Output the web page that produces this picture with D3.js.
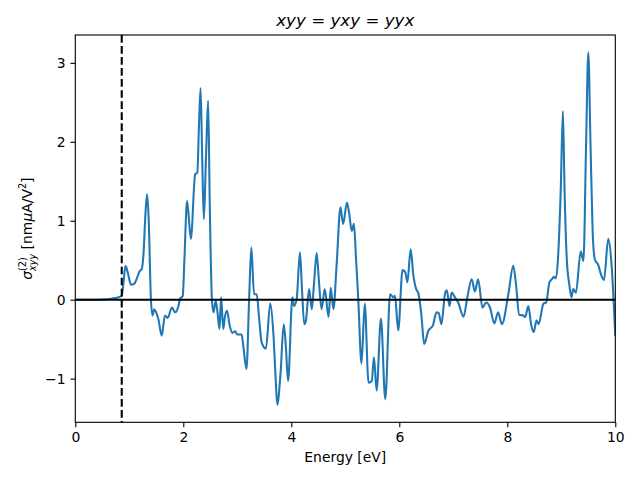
<!DOCTYPE html>
<html>
<head>
<meta charset="utf-8">
<script src="https://cdn.jsdelivr.net/npm/d3@7"></script>
<style>
  html, body { margin: 0; padding: 0; background: #fff; }
  svg { display: block; font-family: "DejaVu Sans", sans-serif; }
</style>
</head>
<body>
<svg id="chart" width="640" height="480"></svg>
<script>
// ---- data ----
const energy = [
  0.00, 0.31, 0.51, 0.64, 0.74, 0.81, 0.86, 0.89, 0.93, 0.98,
  1.03, 1.09, 1.14, 1.19, 1.23, 1.26, 1.30, 1.33, 1.36, 1.40,
  1.43, 1.46, 1.49, 1.54, 1.60, 1.66, 1.71, 1.79, 1.85, 1.91,
  1.94, 1.99, 2.02, 2.07, 2.14, 2.22, 2.26, 2.29, 2.32, 2.35,
  2.38, 2.42, 2.46, 2.49, 2.53, 2.56, 2.60, 2.63, 2.67, 2.70,
  2.74, 2.77, 2.81, 2.86, 2.91, 2.96, 3.00, 3.08, 3.11, 3.17,
  3.22, 3.26, 3.31, 3.36, 3.40, 3.45, 3.53, 3.61, 3.67, 3.71,
  3.74, 3.80, 3.86, 3.90, 3.94, 4.02, 4.05, 4.10, 4.16, 4.20,
  4.24, 4.27, 4.33, 4.38, 4.42, 4.47, 4.51, 4.56, 4.62, 4.69,
  4.73, 4.78, 4.84, 4.91, 4.96, 5.03, 5.07, 5.12, 5.16, 5.20,
  5.24, 5.30, 5.36, 5.43, 5.49, 5.53, 5.58, 5.66, 5.74, 5.83,
  5.89, 5.92, 5.98, 6.06, 6.11, 6.15, 6.21, 6.26, 6.32, 6.35,
  6.41, 6.46, 6.54, 6.58, 6.62, 6.69, 6.73, 6.78, 6.85, 6.88,
  6.93, 6.97, 7.03, 7.09, 7.19, 7.26, 7.34, 7.40, 7.46, 7.54,
  7.61, 7.68, 7.76, 7.83, 7.90, 8.02, 8.11, 8.16, 8.22, 8.30,
  8.33, 8.39, 8.44, 8.49, 8.54, 8.58, 8.67, 8.72, 8.78, 8.84,
  8.86, 8.90, 8.94, 8.99, 9.03, 9.06, 9.10, 9.15, 9.19, 9.22,
  9.27, 9.36, 9.41, 9.46, 9.50, 9.54, 9.58, 9.62, 9.69, 9.73,
  9.79, 9.87, 9.93, 10.00
];
const sigma = [
  0.000, 0.000, 0.003, 0.010, 0.020, 0.035, 0.050, 0.200, 0.430, 0.320,
  0.190, 0.200, 0.270, 0.360, 0.390, 0.550, 1.100, 1.340, 1.000, 0.010,
  -0.200, -0.120, -0.150, -0.250, -0.455, -0.200, -0.230, -0.100, -0.160, -0.080,
  0.010, 0.050, 0.500, 1.250, 0.770, 1.590, 1.610, 2.200, 2.680, 1.800,
  1.020, 1.800, 2.520, 1.200, 0.000, -0.160, -0.010, -0.140, -0.370, 0.030,
  -0.370, -0.220, -0.140, -0.330, -0.420, -0.400, -0.440, -0.440, -0.580, -0.880,
  0.030, 0.660, 0.070, 0.070, -0.200, -0.540, -0.620, -0.050, -0.450, -1.000,
  -1.330, -0.940, -0.310, -0.600, -1.030, 0.030, -0.080, 0.010, 0.600, 0.100,
  -0.310, -0.270, 0.135, -0.120, 0.200, 0.590, 0.250, -0.120, 0.135, -0.220,
  0.150, -0.120, 0.450, 1.170, 0.960, 1.230, 1.100, 0.870, 0.960, 0.500,
  0.010, -0.810, -0.050, -1.050, -1.030, -0.730, -1.150, -0.240, -1.260, 0.070,
  0.030, 0.050, -0.390, 0.375, 0.350, 0.220, 0.640, 0.310, 0.120, 0.090,
  -0.200, -0.560, -0.390, -0.360, -0.330, -0.160, -0.170, -0.310, 0.090, 0.120,
  -0.080, 0.090, 0.030, -0.035, -0.215, 0.030, 0.260, 0.105, 0.260, -0.100,
  -0.035, -0.100, -0.300, -0.160, -0.310, 0.070, 0.430, 0.200, -0.190, -0.200,
  -0.220, -0.080, -0.310, -0.410, -0.260, -0.310, -0.050, -0.035, 0.220, 0.270,
  0.290, 0.270, 0.535, 1.400, 2.390, 1.400, 0.535, 0.180, 0.030, 0.135,
  0.090, 0.610, 0.490, 2.000, 3.130, 2.000, 0.870, 0.515, 0.430, 0.330,
  0.250, 0.770, 0.450, -0.460
];
const xTicks = [0, 2, 4, 6, 8, 10];
const yTicks = [-1, 0, 1, 2, 3];
const bandGap = 0.86;
const titleParts = [["xyy", true], [" = ", false], ["yxy", true], [" = ", false], ["yyx", true]];
const xLabel = "Energy [eV]";

// ---- layout ----
const svg = d3.select("#chart");
const L = 75.3, R = 615.3, T = 35, B = 422.3;
const fs = 13.9;
const lw = 2.08;

const x = d3.scaleLinear().domain([0, 10]).range([L, R]);
const yMin = d3.min(sigma), yMax = d3.max(sigma);
const pad = (yMax - yMin) * 0.05;
const y = d3.scaleLinear().domain([yMin - pad, yMax + pad]).range([B, T]);

svg.append("defs").append("clipPath").attr("id", "clip")
  .append("rect").attr("x", L).attr("y", T).attr("width", R - L).attr("height", B - T);

const data = energy.map((e, i) => [e, sigma[i]]);
const line = d3.line().x(d => x(d[0])).y(d => y(d[1])).curve(d3.curveMonotoneX);

svg.append("path").datum(data)
  .attr("d", line)
  .attr("fill", "none")
  .attr("stroke", "#1f77b4")
  .attr("stroke-width", lw)
  .attr("stroke-linejoin", "round")
  .attr("stroke-linecap", "butt")
  .attr("clip-path", "url(#clip)");

// zero line
svg.append("line")
  .attr("x1", L).attr("x2", R).attr("y1", y(0)).attr("y2", y(0))
  .attr("stroke", "#000").attr("stroke-width", lw)
  .attr("clip-path", "url(#clip)");

// band gap dashed line
svg.append("line")
  .attr("x1", x(bandGap)).attr("x2", x(bandGap)).attr("y1", T).attr("y2", B)
  .attr("stroke", "#000").attr("stroke-width", lw)
  .attr("stroke-dasharray", "7.7,3.33");

// axes
const xAxis = d3.axisBottom(x).tickValues(xTicks).tickSize(4.86).tickPadding(4.86).tickFormat(d3.format("d"));
const gx = svg.append("g").attr("transform", `translate(0,${B})`).call(xAxis);
const yAxis = d3.axisLeft(y).tickValues(yTicks).tickSize(4.86).tickPadding(4.86)
  .tickFormat(d => (d < 0 ? "\u2212" + Math.abs(d) : String(d)));
const gy = svg.append("g").attr("transform", `translate(${L},0)`).call(yAxis);
[gx, gy].forEach(g => {
  g.select(".domain").remove();
  g.selectAll(".tick line").attr("stroke", "#000").attr("stroke-width", 1.11);
  g.selectAll(".tick text").attr("fill", "#000")
    .style("font-family", "DejaVu Sans").style("font-size", fs + "px");
});
gx.selectAll(".tick text").attr("dy", null).attr("y", 4.86 + 4.86 + 10.2);
gy.selectAll(".tick text").attr("dy", null).attr("dominant-baseline", null).attr("y", 5.05);

// frame
svg.append("rect").attr("x", L).attr("y", T).attr("width", R - L).attr("height", B - T)
  .attr("fill", "none").attr("stroke", "#000").attr("stroke-width", 1.11);

// title
const title = svg.append("text").attr("x", (L + R) / 2).attr("y", 26)
  .attr("text-anchor", "middle").style("font-size", "16.7px").attr("fill", "#000")
  .attr("xml:space", "preserve");
titleParts.forEach(([t, it]) => {
  title.append("tspan").text(t).style("font-style", it ? "italic" : "normal");
});

// x label
svg.append("text").attr("x", (L + R) / 2).attr("y", 461.5)
  .attr("text-anchor", "middle").style("font-size", fs + "px").attr("fill", "#000")
  .text(xLabel);

// y label (rotated, built from measured parts)
const yl = svg.append("g").attr("transform", `translate(27,${(T + B) / 2}) rotate(-90)`);
const small = 9.7;
const parts = [
  { t: "\u03c3", size: fs, it: true, dy: 0 },
  { t: "(2)", size: small, it: false, dy: -6.5, tag: "sup" },
  { t: "xyy", size: small, it: true, dy: 3.5, tag: "sub" },
  { t: "\u00a0[nm", size: fs, it: false, dy: 0 },
  { t: "\u03bc", size: fs, it: true, dy: 0 },
  { t: "A/V", size: fs, it: false, dy: 0 },
  { t: "2", size: small, it: false, dy: -6.5 },
  { t: "]", size: fs, it: false, dy: 0 }
];
let cx = 0, supW = 0;
parts.forEach(p => {
  const n = yl.append("text").attr("x", cx).attr("y", 5 + p.dy)
    .style("font-size", p.size + "px").style("font-style", p.it ? "italic" : "normal")
    .attr("fill", "#000").text(p.t);
  const w = n.node().getComputedTextLength();
  if (p.tag === "sup") { supW = w; }
  else if (p.tag === "sub") { cx += Math.max(w, supW); }
  else { cx += w; }
});
yl.selectAll("text").attr("transform", `translate(${-cx / 2},0)`);
</script>
</body>
</html>
